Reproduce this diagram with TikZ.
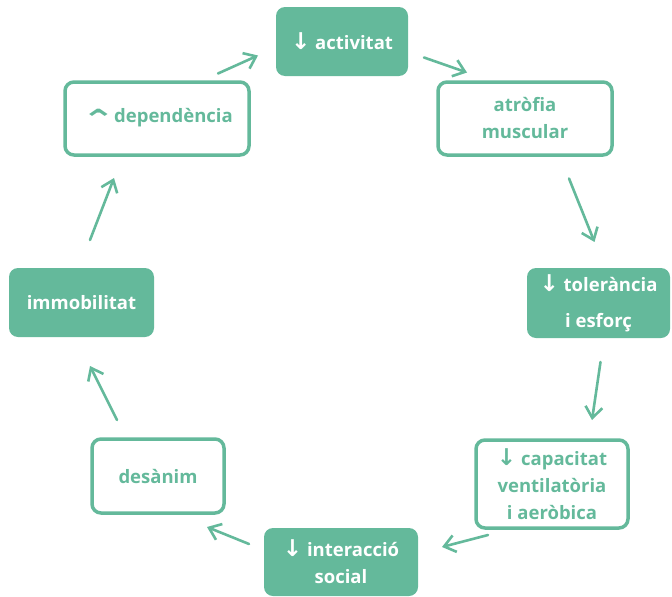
\documentclass[tikz,border=0pt]{standalone}
\usepackage{fontspec}
\setmainfont{Open Sans}
\newfontfamily\symfont{DejaVu Sans}
\usepackage{tikz}
\usetikzlibrary{arrows.meta,calc}
\definecolor{verd}{RGB}{100,185,155}
\newcommand{\baixa}{{\symfont\scalebox{1.25}{↓}}}
\newcommand{\puja}{{\symfont\raisebox{-7pt}{\scalebox{2.2}[1.5]{⌃}}}}

\begin{document}
\begin{tikzpicture}[x=1pt,y=-1pt,>={Straight Barb[length=11pt,width=17pt]}]
	\tikzstyle{ple}=[rectangle,rounded corners=9pt,fill=verd,text=white,align=center,inner sep=0pt,font=\fontsize{18.5}{27}\selectfont\bfseries]
	\tikzstyle{buit}=[rectangle,rounded corners=9pt,draw=verd,line width=3.5pt,text=verd,align=center,inner sep=0pt,font=\fontsize{18.5}{27}\selectfont\bfseries]
	\tikzstyle{fletxa}=[->,draw=verd,line width=2.6pt,line cap=round,line join=round]

	\useasboundingbox (0,0) rectangle (672,597);

	\node[ple,minimum width=132,minimum height=69] (act) at (342,41.5) {\baixa\ activitat};
	\node[buit,minimum width=174,minimum height=73] (atr) at (525,118.5) {atròfia\\muscular};
	\node[ple,minimum width=143,minimum height=70] (tol) at (598.5,303) {\baixa\ tolerància\\[9pt]i esforç};
	\node[buit,minimum width=152,minimum height=88] (cap) at (552,484) {\baixa\ capacitat\\ventilatòria\\i aeròbica};
	\node[ple,minimum width=154,minimum height=68] (int) at (341,562) {\baixa\ interacció\\social};
	\node[buit,minimum width=132,minimum height=74] (des) at (158,476) {desànim};
	\node[ple,minimum width=145,minimum height=69] (imm) at (81.5,302.5) {immobilitat};
	\node[buit,minimum width=184,minimum height=73] (dep) at (157,118.5) {\puja\kern-6pt\ dependència};

	\draw[fletxa] ($(dep)+(61,-45)$) -- ($(act)+(-84,14)$);
	\draw[fletxa] ($(act)+(82,16)$) -- ($(atr)+(-58,-46)$);
	\draw[fletxa] ($(atr)+(44,60)$) -- ($(tol)+(-4,-61)$);
	\draw[fletxa] ($(tol)+(2,59)$) -- ($(cap)+(40,-64)$);
	\draw[fletxa] ($(cap)+(-64,51)$) -- ($(int)+(101,-15)$);
	\draw[fletxa] ($(int)+(-92,-18)$) -- ($(des)+(49,51)$);
	\draw[fletxa] ($(des)+(-41,-56)$) -- ($(imm)+(8.5,63.5)$);
	\draw[fletxa] ($(imm)+(8.5,-62.5)$) -- ($(dep)+(-43,59.5)$);
\end{tikzpicture}
\end{document}
